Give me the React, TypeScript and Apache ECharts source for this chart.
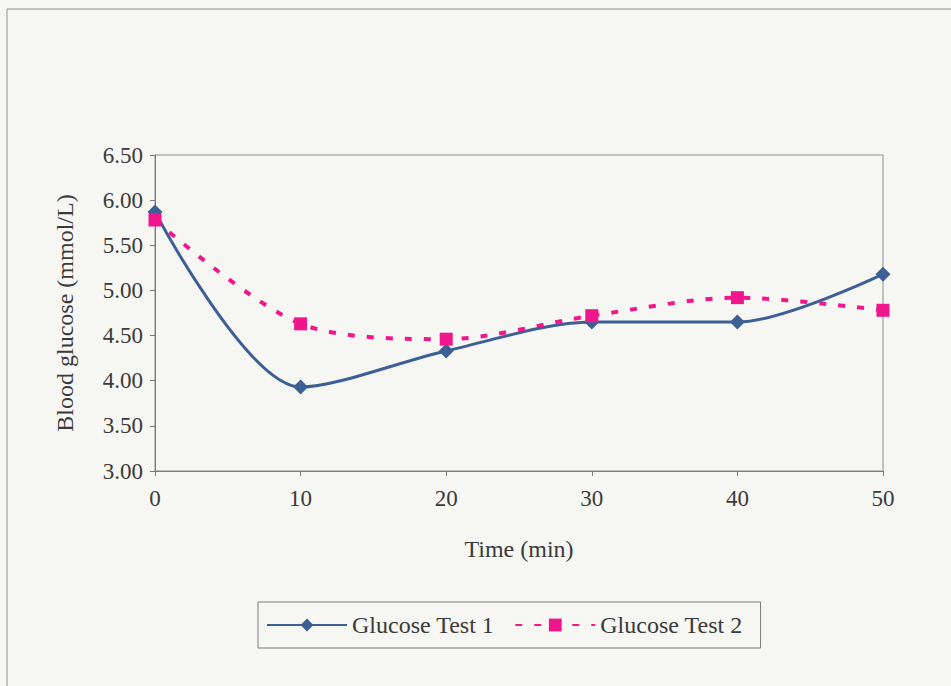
import React, { useEffect, useRef } from "react";
import * as echarts from "echarts";

const times = [0, 10, 20, 30, 40, 50];
const test1 = [5.87, 3.93, 4.33, 4.65, 4.65, 5.18];
const test2 = [5.78, 4.63, 4.46, 4.72, 4.92, 4.78];
const seriesNames = ["Glucose Test 1", "Glucose Test 2"];
const yTitle = "Blood glucose (mmol/L)";
const xTitle = "Time (min)";

const FONT = "'Liberation Serif', 'DejaVu Serif', serif";

export default function App() {
  const ref = useRef<HTMLDivElement>(null);
  useEffect(() => {
    const chart = echarts.init(ref.current!, undefined, { renderer: "svg" });
    const pairs = (ys: number[]) => times.map((t, i) => [t, ys[i]]);
    chart.setOption({
      animation: false,
      backgroundColor: "#f6f6f3",
      textStyle: { fontFamily: FONT },
      graphic: [
        {
          type: "rect",
          shape: { x: 7, y: 9, width: 1000, height: 760 },
          style: { fill: "none", stroke: "#8a8f8a", lineWidth: 1 },
          silent: true,
        },
      ],
      grid: { left: 155, right: 68, top: 155, bottom: 215, show: true, borderColor: "#8c8c8c", borderWidth: 1, backgroundColor: "transparent" },
      xAxis: {
        type: "value",
        min: 0,
        max: 50,
        interval: 10,
        name: xTitle,
        nameLocation: "middle",
        nameGap: 66,
        nameTextStyle: { fontFamily: FONT, fontSize: 24, color: "#3a3a3a" },
        axisLine: { lineStyle: { color: "#7a7a7a" } },
        axisTick: { show: true, length: 5, lineStyle: { color: "#7a7a7a" } },
        axisLabel: { fontFamily: FONT, fontSize: 23, color: "#3a3a3a", margin: 16 },
        splitLine: { show: false },
      },
      yAxis: {
        type: "value",
        min: 3,
        max: 6.5,
        interval: 0.5,
        name: yTitle,
        nameLocation: "middle",
        nameGap: 78,
        nameTextStyle: { fontFamily: FONT, fontSize: 24, color: "#3a3a3a" },
        axisLine: { show: true, lineStyle: { color: "#7a7a7a" } },
        axisTick: { show: true, length: 5, lineStyle: { color: "#7a7a7a" } },
        axisLabel: { fontFamily: FONT, fontSize: 23, color: "#3a3a3a", margin: 12, formatter: (v: number) => v.toFixed(2) },
        splitLine: { show: false },
      },
      legend: {
        left: 258,
        top: 602,
        orient: "horizontal",
        borderColor: "#7a7a7a",
        borderWidth: 1,
        padding: [11, 18, 11, 8],
        itemGap: 20,
        itemWidth: 80,
        itemHeight: 16,
        textStyle: { fontFamily: FONT, fontSize: 24, color: "#3a3a3a" },
        data: seriesNames,
      },
      series: [
        {
          name: seriesNames[0],
          type: "line",
          data: pairs(test1),
          smooth: 0.3,
          symbol: "diamond",
          symbolSize: 15,
          color: "#3d5f96",
          lineStyle: { width: 3, color: "#3d5f96" },
          itemStyle: { color: "#3d5f96" },
        },
        {
          name: seriesNames[1],
          type: "line",
          data: pairs(test2),
          smooth: 0.3,
          symbol: "rect",
          symbolSize: 13,
          color: "#f0168c",
          lineStyle: { width: 4, color: "#f0168c", type: [7, 12] },
          itemStyle: { color: "#f0168c" },
        },
      ],
    });
    return () => chart.dispose();
  }, []);
  return <div ref={ref} style={{ width: 951, height: 686, position: "absolute", left: 0, top: 0 }} />;
}
